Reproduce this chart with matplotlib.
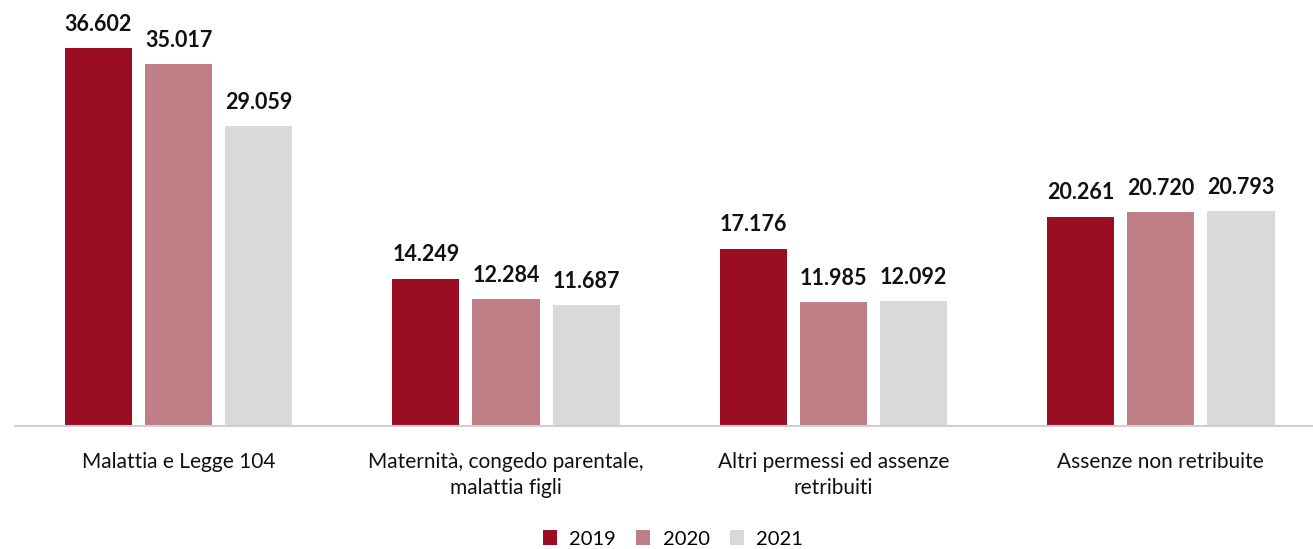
import matplotlib.pyplot as plt
import numpy as np

plt.rcParams['font.family'] = ['Lato', 'DejaVu Sans']

categories = ["Malattia e Legge 104",
              "Maternità, congedo parentale,\nmalattia figli",
              "Altri permessi ed assenze\nretribuiti",
              "Assenze non retribuite"]
years = ["2019", "2020", "2021"]
v2019 = [36.602, 14.249, 17.176, 20.261]
v2020 = [35.017, 12.284, 11.985, 20.720]
v2021 = [29.059, 11.687, 12.092, 20.793]
colors = ["#9B0D23", "#C07F87", "#D9D9D9"]

fig = plt.figure(figsize=(13.13, 5.49), dpi=100)
ax = fig.add_axes([15/1313, 1 - 426/549, 1 - 15/1313, 413/549])

x = np.arange(len(categories))
step = 0.245
width = 0.205
for i, (vals, year) in enumerate(zip([v2019, v2020, v2021], years)):
    pos = x + (i - 1) * step
    bars = ax.bar(pos, vals, width=width, color=colors[i], label=year)
    for b, v in zip(bars, vals):
        ax.text(b.get_x() + b.get_width() / 2, v + 1.3, f"{v:.3f}",
                ha="center", va="bottom", fontsize=15.5, fontweight="bold",
                color="#111111")

ax.set_xlim(-0.5, 3.465)
ax.set_ylim(0, 40)
ax.set_yticks([])
ax.set_xticks(x)
ax.set_xticklabels(categories, fontsize=15, color="#111111", linespacing=1.35)
ax.tick_params(axis="x", length=0, pad=19)
for s in ["top", "right", "left"]:
    ax.spines[s].set_visible(False)
ax.spines["bottom"].set_color("#D0D0D0")
ax.spines["bottom"].set_linewidth(1.5)

fig.legend(loc="center", bbox_to_anchor=(673/1313, 1 - 539/549), ncol=3,
           frameon=False, fontsize=14.5, handlelength=0.7, handleheight=0.7,
           columnspacing=1.0, handletextpad=0.6)

fig.savefig("out.png", dpi=100)
